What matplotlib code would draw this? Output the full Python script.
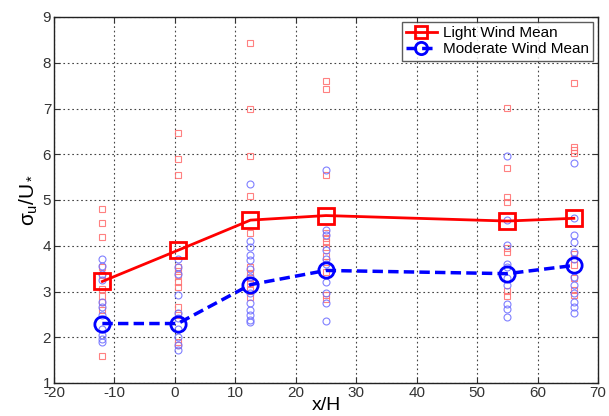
import matplotlib
matplotlib.use("Agg")
import matplotlib.pyplot as plt

plt.rcParams['font.family'] = ['Liberation Sans', 'DejaVu Sans']
plt.rcParams['mathtext.fontset'] = 'custom'
plt.rcParams['mathtext.rm'] = 'Liberation Sans'
plt.rcParams['mathtext.it'] = 'Liberation Sans'
plt.rcParams['axes.unicode_minus'] = False

# Mean positions and values
x_pos = [-12, 0.5, 12.5, 25, 55, 66]
light_mean = [3.22, 3.9, 4.56, 4.66, 4.54, 4.6]
moderate_mean = [2.3, 2.3, 3.15, 3.46, 3.39, 3.57]

# Individual light-wind samples per station
light_m12 = [4.81, 4.50, 4.20, 3.54, 3.37, 3.06, 2.91, 2.78, 2.59, 1.59]
light_p05 = [6.46, 5.89, 5.55, 3.54, 3.45, 3.35, 3.20, 3.10, 2.67, 2.48, 1.90, 1.83]
light_p12 = [8.44, 7.0, 5.97, 5.09, 4.27, 3.54, 3.39, 3.29, 3.19, 3.03, 2.88]
light_p25 = [7.6, 7.43, 5.55, 4.27, 4.18, 4.09, 3.98, 3.77, 3.65, 3.43, 2.92, 2.83]
light_p55 = [7.02, 5.69, 5.07, 4.96, 3.94, 3.87, 3.02, 2.90]
light_p66 = [7.55, 6.16, 6.09, 6.02, 3.83, 3.72, 3.58, 3.29, 3.03, 2.92]

# Individual moderate-wind samples per station
mod_m12 = [3.70, 3.56, 3.39, 3.25, 2.78, 2.67, 2.48, 2.19, 2.06, 1.97, 1.90]
mod_p05 = [3.72, 3.54, 3.39, 2.92, 2.52, 2.41, 2.19, 2.0, 1.83, 1.72]
mod_p12 = [5.34, 4.11, 3.98, 3.80, 3.69, 3.50, 3.32, 2.96, 2.74, 2.59, 2.48, 2.37, 2.34]
mod_p25 = [5.65, 4.34, 4.23, 3.91, 3.72, 3.61, 3.21, 2.97, 2.75, 2.35]
mod_p55 = [5.97, 4.56, 4.01, 3.61, 3.54, 3.29, 3.14, 2.72, 2.61, 2.45]
mod_p66 = [5.81, 4.60, 4.23, 4.09, 3.87, 3.72, 3.32, 3.14, 2.96, 2.78, 2.67, 2.52]

light_samples = [light_m12, light_p05, light_p12, light_p25, light_p55, light_p66]
mod_samples = [mod_m12, mod_p05, mod_p12, mod_p25, mod_p55, mod_p66]

x_ticks = [-20, -10, 0, 10, 20, 30, 40, 50, 60, 70]
y_ticks = [1, 2, 3, 4, 5, 6, 7, 8, 9]

fig = plt.figure(figsize=(6.09, 4.16), dpi=100)
ax = fig.add_axes([54/609, 1-383/416, (598-54)/609, (383-17)/416])

for xp, vals in zip(x_pos, light_samples):
    ax.plot([xp]*len(vals), vals, linestyle='none', marker='s', ms=5,
            mfc='none', mec=(1, 0.45, 0.45), mew=0.8, alpha=0.9, zorder=2)
for xp, vals in zip(x_pos, mod_samples):
    ax.plot([xp]*len(vals), vals, linestyle='none', marker='o', ms=5,
            mfc='none', mec=(0.45, 0.45, 1), mew=0.8, alpha=0.9, zorder=2)

ax.plot(x_pos, light_mean, color='red', lw=2, marker='s', ms=11, mfc='none',
        mec='red', mew=2, label='Light Wind Mean', zorder=3)
ax.plot(x_pos, moderate_mean, color='blue', lw=2.5, ls='--', dashes=(3, 1.5),
        marker='o', ms=11, mfc='none', mec='blue', mew=2,
        label='Moderate Wind Mean', zorder=3)

ax.set_xlim(-20, 70)
ax.set_ylim(1, 9)
ax.set_xticks(x_ticks)
ax.set_yticks(y_ticks)
ax.tick_params(direction='in', top=True, right=True, labelsize=11,
               colors='#333333', length=4, pad=2)
for s in ax.spines.values():
    s.set_color('#222222')
    s.set_linewidth(1.0)
ax.grid(True, linestyle=(0, (1.5, 2.5)), color='#444444', lw=0.8)

ax.set_xlabel('x/H', fontsize=14, labelpad=-2)
ax.set_ylabel(r'$\sigma_u/U_*$', fontsize=15, labelpad=2)

leg = ax.legend(loc='upper right', fontsize=11, frameon=True, fancybox=False,
                edgecolor='#333333', borderpad=0.3, labelspacing=0.15,
                handlelength=2.0, handletextpad=0.4, borderaxespad=0.3,
                markerscale=0.8)
leg.get_frame().set_linewidth(1.0)

fig.savefig('out.png', dpi=100)
